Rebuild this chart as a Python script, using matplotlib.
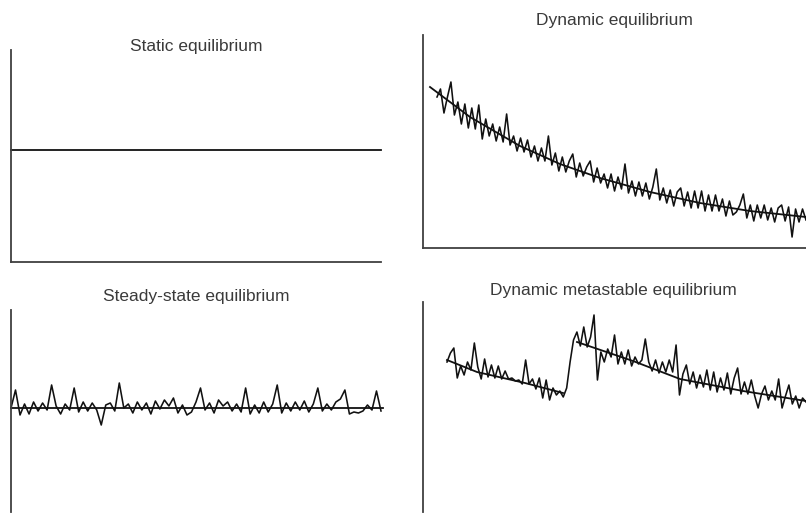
import numpy as np
import matplotlib
matplotlib.use("Agg")
import matplotlib.pyplot as plt

plt.rcParams['font.family'] = ['Liberation Sans', 'DejaVu Sans']

# ---------------- data ----------------
titles = ["Static equilibrium", "Dynamic equilibrium",
          "Steady-state equilibrium", "Dynamic metastable equilibrium"]

static_level = 112

dyn_trend_x = [7, 47, 97, 137, 177, 227, 277, 327, 383]
dyn_trend_y = [161, 131, 102, 84, 70, 56, 45, 37, 31]
dyn_noise = [151, 159, 135, 151, 166, 133, 146, 124, 144, 120,
             140, 119, 143, 109, 129, 112, 124, 107, 121, 106,
             134, 103, 112, 97, 110, 96, 108, 91, 102, 87,
             100, 87, 112, 83, 95, 77, 91, 76, 87, 94,
             71, 85, 72, 81, 87, 66, 80, 65, 74, 60,
             74, 57, 71, 59, 84, 55, 67, 52, 66, 52,
             65, 49, 61, 79, 48, 60, 45, 58, 42, 56,
             60, 42, 56, 40, 57, 40, 57, 37, 53, 37,
             53, 37, 49, 32, 47, 33, 36, 43, 54, 30,
             43, 27, 43, 30, 43, 28, 40, 26, 40, 43,
             27, 41, 11, 39, 26, 39, 28]

steady_level = 104
steady_noise = [104, 122, 97, 108, 98, 110, 101, 109, 102, 127,
                106, 98, 108, 102, 124, 100, 110, 101, 109, 102,
                87, 107, 109, 101, 129, 104, 108, 99, 110, 102,
                109, 98, 111, 103, 112, 106, 114, 99, 107, 97,
                100, 110, 124, 102, 109, 99, 112, 106, 110, 101,
                108, 100, 124, 98, 107, 99, 110, 100, 108, 127,
                99, 109, 101, 110, 102, 111, 100, 108, 124, 101,
                108, 102, 110, 113, 122, 98, 100, 99, 101, 107,
                102, 121, 101]

meta_trend1_x = [24, 54, 102, 140]
meta_trend1_y = [152, 140, 129, 119]
meta_trend2_x = [154, 210, 257, 320, 383]
meta_trend2_y = [170, 151, 133, 121, 111]
meta_noise = [150, 159, 164, 134, 146, 137, 150, 142, 169, 145,
              133, 153, 135, 147, 134, 146, 133, 141, 133, 134,
              131, 132, 128, 152, 128, 133, 123, 134, 114, 132,
              112, 124, 117, 121, 115, 124, 150, 172, 180, 166,
              185, 165, 175, 197, 132, 160, 150, 163, 155, 177,
              148, 160, 148, 162, 146, 155, 148, 152, 173, 150,
              141, 152, 139, 150, 140, 152, 140, 167, 117, 138,
              147, 128, 140, 124, 137, 125, 142, 122, 140, 120,
              134, 122, 139, 118, 134, 144, 118, 130, 118, 132,
              116, 104, 118, 126, 112, 121, 112, 133, 104, 116,
              127, 108, 116, 104, 114, 110]

# ---------------- layout (pixels) ----------------
W, H = 806, 516
fig = plt.figure(figsize=(W / 100, H / 100), dpi=100)

spine_col = "#404040"
line_col = "#111111"
text_col = "#3a3a3a"


def make_axes(l, t, r, b, bottom=True):
    ax = fig.add_axes([l / W, 1 - b / H, (r - l) / W, (b - t) / H])
    ax.set_xlim(0, r - l)
    ax.set_ylim(0, b - t)
    for s in ["top", "right"]:
        ax.spines[s].set_visible(False)
    ax.spines["bottom"].set_visible(bottom)
    for s in ["left", "bottom"]:
        ax.spines[s].set_color(spine_col)
        ax.spines[s].set_linewidth(1.3)
    ax.set_xticks([])
    ax.set_yticks([])
    ax.patch.set_alpha(0)
    return ax


ax1 = make_axes(11, 50, 381, 262)
ax2 = make_axes(423, 35, 806, 248)
ax3 = make_axes(11, 310, 383, 512, bottom=False)
ax4 = make_axes(423, 302, 806, 512, bottom=False)

noise_lw = 1.15
trend_lw = 1.3

# Static
ax1.axhline(static_level, color=line_col, lw=trend_lw, clip_on=False)

# Dynamic
xd = np.linspace(14, 383, len(dyn_noise))
ax2.plot(xd, dyn_noise, color=line_col, lw=noise_lw, clip_on=False)
ax2.plot(dyn_trend_x, dyn_trend_y, color=line_col, lw=trend_lw, clip_on=False)

# Steady-state
xs = np.linspace(0, 370, len(steady_noise))
ax3.plot(xs, steady_noise, color=line_col, lw=noise_lw, clip_on=False)
ax3.axhline(steady_level, color=line_col, lw=trend_lw, clip_on=False)

# Metastable
xm = np.linspace(24, 383, len(meta_noise))
ax4.plot(xm, meta_noise, color=line_col, lw=noise_lw, clip_on=False)
ax4.plot(meta_trend1_x, meta_trend1_y, color=line_col, lw=trend_lw, clip_on=False)
ax4.plot(meta_trend2_x, meta_trend2_y, color=line_col, lw=trend_lw, clip_on=False)

# titles
title_pos = [(196, 46), (614, 21), (196, 296), (613, 290)]
for t, (x, y) in zip(titles, title_pos):
    fig.text(x / W, 1 - y / H, t, ha="center", va="center",
             fontsize=12.5, color=text_col)

fig.savefig("out.png", dpi=100)
